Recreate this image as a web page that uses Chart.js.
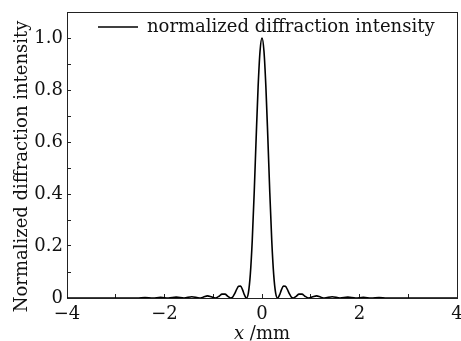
<!DOCTYPE html>
<html>
<head>
<meta charset="utf-8">
<script src="https://cdn.jsdelivr.net/npm/chart.js@4.4.1/dist/chart.umd.min.js"></script>
<style>
    body { margin: 0; background: #fff; }
    canvas { display: block; }
</style>
</head>
<body>
<canvas id="diffChart" width="461" height="341"></canvas>
<script>
// x positions (mm)
var xValues = [
    -4, -2.8, -2.56, -2.4, -2.24, -2.08, -1.92, -1.76, -1.6, -1.44, -1.28,
    -1.2, -1.12, -1.04, -0.96, -0.88, -0.82, -0.76, -0.7, -0.64,
    -0.6, -0.56, -0.52, -0.48, -0.44, -0.4, -0.36, -0.32,
    -0.28, -0.24, -0.2, -0.16, -0.12, -0.08, -0.04, 0,
    0.04, 0.08, 0.12, 0.16, 0.2, 0.24, 0.28,
    0.32, 0.36, 0.4, 0.44, 0.48, 0.52, 0.56, 0.6,
    0.64, 0.7, 0.76, 0.82, 0.88, 0.96, 1.04, 1.12, 1.2,
    1.28, 1.44, 1.6, 1.76, 1.92, 2.08, 2.24, 2.4, 2.56, 2.8, 4
];
// normalized intensity at those positions
var intensity = [
    0, 0, 0, 0.0017, 0, 0.0023, 0, 0.0033, 0, 0.005, 0,
    0.0035, 0.0083, 0.0048, 0, 0.0067, 0.015, 0.015, 0.0065, 0,
    0.004, 0.017, 0.033, 0.045, 0.046, 0.032, 0.012, 0,
    0.019, 0.09, 0.221, 0.405, 0.615, 0.811, 0.95, 1.0,
    0.95, 0.811, 0.615, 0.405, 0.221, 0.09, 0.019,
    0, 0.012, 0.032, 0.046, 0.045, 0.033, 0.017, 0.004,
    0, 0.0065, 0.015, 0.015, 0.0067, 0, 0.0048, 0.0083, 0.0035,
    0, 0.005, 0, 0.0033, 0, 0.0023, 0, 0.0017, 0, 0, 0
];

var xTickLabels = ['\u22124', '\u22122', '0', '2', '4'];
var yTickLabels = ['0', '0.2', '0.4', '0.6', '0.8', '1.0'];

var seriesName = 'normalized diffraction intensity';
var xTitle = '\ud835\udc65 /mm';
// trailing nbsp nudges the rotated title down a little, as in the original
var yTitle = 'Normalized diffraction intensity\u00a0\u00a0\u00a0\u00a0';

var points = xValues.map(function (x, i) {
    return {x: x, y: intensity[i]};
});

var serif = 'DejaVu Serif';
var ink = '#111';

// put the legend inside the frame, near the top
var legendPlace = {
    id: 'legendPlace',
    afterLayout: function (chart) {
        var lg = chart.legend;
        if (!lg) return;
        var h = lg.height;
        lg.left = 98;
        lg.top = 18;
        lg.right = lg.left + lg.width;
        lg.bottom = lg.top + h;
    }
};

// labels may hang past the frame, like in the original
function noPad(s) {
    s.paddingLeft = 0;
    s.paddingRight = 0;
    s.paddingTop = 0;
    s.paddingBottom = 0;
}

new Chart(document.getElementById('diffChart'), {
    type: 'line',
    data: {
        datasets: [{
            label: seriesName,
            data: points,
            borderColor: '#000',
            backgroundColor: '#000',
            borderWidth: 1.6,
            pointRadius: 0,
            cubicInterpolationMode: 'monotone',
            fill: false
        }]
    },
    options: {
        responsive: false,
        animation: false,
        devicePixelRatio: 1,
        layout: {padding: {top: 12, right: 4, left: 0, bottom: 0}},
        plugins: {
            tooltip: {enabled: false},
            legend: {
                display: true,
                position: 'chartArea',
                align: 'start',
                labels: {
                    usePointStyle: true,
                    pointStyle: 'line',
                    pointStyleWidth: 40,
                    padding: 0,
                    color: ink,
                    font: {family: serif, size: 18}
                }
            }
        },
        scales: {
            x: {
                type: 'linear',
                position: 'bottom',
                min: -4,
                max: 4,
                ticks: {
                    stepSize: 1,
                    autoSkip: false,
                    maxRotation: 0,
                    padding: 10,
                    color: ink,
                    font: {family: serif, size: 18},
                    callback: function (value) {
                        if (Math.round(value) % 2 !== 0) return '';
                        return xTickLabels[Math.round((value + 4) / 2)];
                    }
                },
                grid: {drawOnChartArea: false, tickLength: -4, tickColor: '#222', tickWidth: 1},
                border: {color: '#222', width: 1},
                title: {
                    display: true,
                    text: xTitle,
                    color: ink,
                    font: {family: serif, size: 18},
                    padding: {top: 0, bottom: -4}
                },
                afterFit: function (s) { s.height = 43; noPad(s); }
            },
            xTop: {
                type: 'linear',
                position: 'top',
                min: -4,
                max: 4,
                ticks: {display: false},
                grid: {display: false},
                border: {color: '#222', width: 1},
                afterFit: function (s) { s.height = 0; noPad(s); }
            },
            y: {
                type: 'linear',
                position: 'left',
                min: 0,
                max: 1.1,
                ticks: {
                    stepSize: 0.1,
                    autoSkip: false,
                    padding: 8,
                    color: ink,
                    font: {family: serif, size: 18},
                    callback: function (value) {
                        var k = Math.round(value * 10);
                        if (k % 2 !== 0) return '';
                        return yTickLabels[k / 2];
                    }
                },
                grid: {drawOnChartArea: false, tickLength: -4, tickColor: '#222', tickWidth: 1},
                border: {color: '#222', width: 1},
                title: {
                    display: true,
                    text: yTitle,
                    color: ink,
                    font: {family: serif, size: 18},
                    padding: {top: 12, bottom: 0}
                },
                afterFit: function (s) { s.width = 67; noPad(s); }
            },
            yRight: {
                type: 'linear',
                position: 'right',
                min: 0,
                max: 1.1,
                ticks: {display: false},
                grid: {display: false},
                border: {color: '#222', width: 1},
                afterFit: function (s) { s.width = 0; noPad(s); }
            }
        }
    },
    plugins: [legendPlace]
});
</script>
</body>
</html>
